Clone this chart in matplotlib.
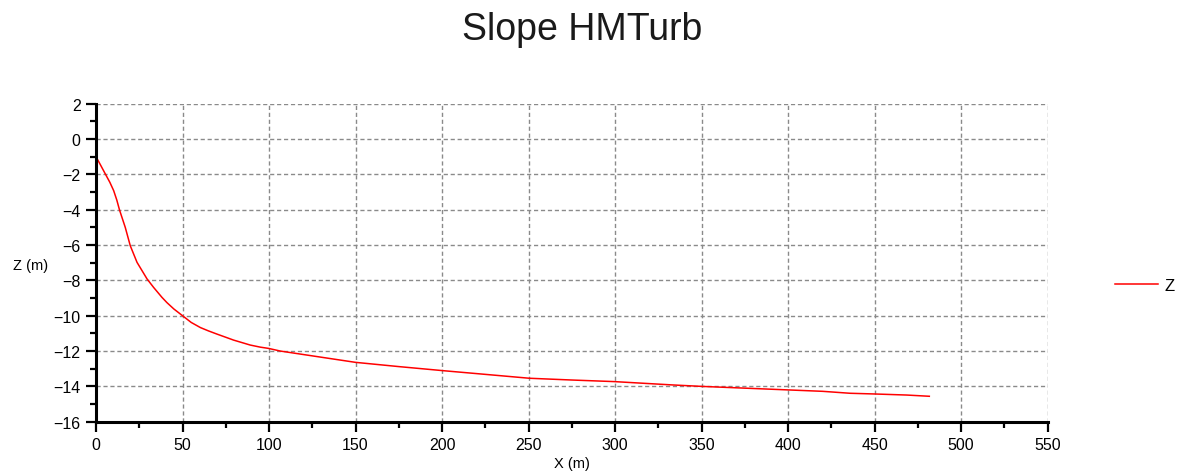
import matplotlib.pyplot as plt
from matplotlib.ticker import MultipleLocator

# profile of the slope (distance along section, elevation)
x_m = [0, 2.5, 5.4, 8, 10.2, 12, 13.6, 16.9, 19.8, 23.7, 29.5, 33.3, 38.1, 41,
       45, 50, 55, 60.3, 65, 69.9, 75, 79.5, 85, 89.1, 95, 99.7, 106.5, 118,
       135, 150, 175, 200.5, 225, 250.5, 275, 299.6, 333.5, 350, 375, 400, 420,
       435.8, 450, 468.5, 481.6]
z_m = [-1.0, -1.45, -1.98, -2.45, -2.92, -3.45, -4.02, -5.0, -6.04, -6.98,
       -7.92, -8.4, -8.96, -9.26, -9.62, -10.0, -10.38, -10.67, -10.86, -11.04,
       -11.22, -11.38, -11.54, -11.66, -11.78, -11.85, -12.0, -12.17, -12.42,
       -12.64, -12.88, -13.11, -13.32, -13.54, -13.64, -13.73, -13.92, -14.0,
       -14.1, -14.2, -14.28, -14.39, -14.43, -14.49, -14.56]

x_ticks = list(range(0, 551, 50))
z_ticks = list(range(-16, 3, 2))

plt.rcParams['font.family'] = ['Liberation Sans', 'DejaVu Sans']

fig = plt.figure(figsize=(11.81, 4.77), dpi=100)
ax = fig.add_axes([0.0813, 0.1138, 0.8058, 0.6667])

line, = ax.plot(x_m, z_m, color='red', lw=1.1, label='Z')

ax.set_xlim(0, 550)
ax.set_ylim(-16, 2)
ax.set_xticks(x_ticks)
ax.set_yticks(z_ticks)
ax.xaxis.set_minor_locator(MultipleLocator(25))
ax.yaxis.set_minor_locator(MultipleLocator(1))

ax.grid(True, which='major', color='#8a8a8a', linestyle=(0, (3, 2)), lw=1)
ax.set_axisbelow(True)

for side in ['top', 'right']:
    ax.spines[side].set_visible(False)
for side in ['left', 'bottom']:
    ax.spines[side].set_linewidth(2.2)

ax.tick_params(which='major', direction='out', length=7, width=1.6,
               labelsize=11.5, pad=4, colors='black')
ax.tick_params(which='minor', direction='out', length=4, width=1.6)

ax.set_xlabel('X (m)', fontsize=10.5, labelpad=3)
ax.set_ylabel('Z (m)', fontsize=10.5, rotation=0)
ax.yaxis.set_label_coords(-0.069, 0.47)

fig.suptitle('Slope HMTurb', fontsize=27, x=0.493, y=0.975, color='#1a1a1a')

fig.legend(handles=[line], loc='center left', frameon=False, fontsize=12,
           handlelength=2.6, handletextpad=0.4,
           bbox_to_anchor=(0.931, 0.4))

fig.savefig('out.png', dpi=100)
